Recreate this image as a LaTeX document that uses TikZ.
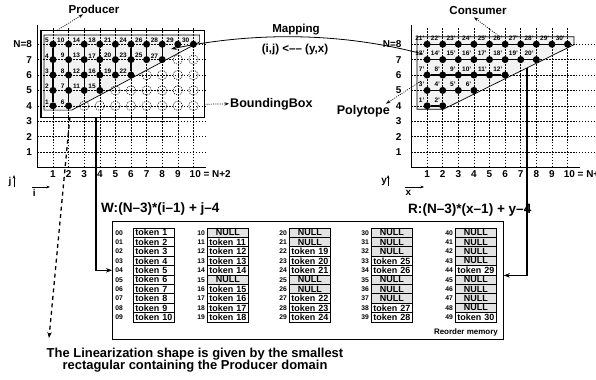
\documentclass[tikz,border=0pt]{standalone}
\usepackage{fontspec}
\setmainfont{Liberation Sans}
\usetikzlibrary{arrows.meta}

\tikzset{
  grid line/.style={dash pattern=on 1.6pt off 1.4pt, line width=0.5pt},
  axis line/.style={line width=0.9pt},
  pt/.style={circle, fill=black, inner sep=0pt, minimum size=7bp},
  hole/.style={circle, draw, dash pattern=on 1.2pt off 1pt, line width=0.5pt, inner sep=0pt, minimum size=9.5bp},
  lbl/.style={font=\fontsize{6.5}{7}\selectfont\bfseries, inner sep=0.4pt},
  axlbl/.style={font=\fontsize{10}{11}\selectfont\bfseries, inner sep=0.5pt},
  big/.style={font=\fontsize{11.6}{12}\selectfont\bfseries, inner sep=1bp},
  bigger/.style={font=\fontsize{12.6}{13}\selectfont\bfseries, inner sep=1bp},
  form/.style={font=\fontsize{13.6}{15}\selectfont\bfseries, inner sep=1bp},
  edge/.style={line width=1.4pt},
  var arrow/.style={line width=0.6pt, -{Stealth[length=3.5pt,width=2.8pt]}},
  note/.style={dash pattern=on 1pt off 1.2pt, line width=0.7pt, -{Stealth[length=4.5pt,width=3.2pt]}},
  flow/.style={line width=1.2pt, -{Stealth[length=6pt,width=4.5pt]}},
  cell/.style={draw, line width=0.8pt, minimum height=9.4bp, text width=37bp, inner xsep=2bp, inner ysep=0pt, font=\fontsize{9}{9}\selectfont\bfseries, anchor=west},
  tok/.style={cell, fill=white, align=left},
  null/.style={cell, fill=gray!22, align=center},
  idx/.style={font=\fontsize{6.8}{7}\selectfont\bfseries, inner sep=0pt, anchor=east},
}

% lattice: prefix, horizontal var, vertical var, line extent, label x
\newcommand{\lattice}[5]{%
  \foreach \j in {1,...,8} \draw[grid line] (0,\j) -- (#4,\j);
  \foreach \i in {1,...,10} \draw[grid line] (\i,0) -- (\i,9.1);
  \draw[axis line] (0,9.25) -- (0,0) -- (10.8,0);
  \foreach \j in {1,...,7} \node[axlbl, anchor=east] (#1-y\j) at (#5,\j) {\j};
  \node[axlbl, anchor=east] (#1-y8) at (#5,8) {N=8};
  \foreach \i in {1,...,9} \node[axlbl] (#1-x\i) at (\i,-0.43) {\i};
  \node[axlbl, anchor=west] (#1-x10) at (9.72,-0.43) {10 = N+2};
  \node[axlbl] (#1-v) at (-1.75,-0.95) {#3};
  \node[axlbl] (#1-h) at (-0.2,-1.66) {#2};
  \coordinate (#1-vt) at (-1.5,-0.5);
  \coordinate (#1-ht) at (0.8,-1.27);
  \draw[var arrow] (#1-vt |- #1-v.south) -- (#1-vt);
  \draw[var arrow] (#1-h.north west |- #1-ht) -- (#1-ht);
}

\begin{document}
\begin{tikzpicture}[x=1bp, y=-1bp]
\useasboundingbox (0,0) rectangle (596,379);

% producer domain
\begin{scope}[shift={(37.4,167.4)}, x=15.6bp, y=15.4bp]
  \fill[gray!10] (0.42,8.6) -- (10.4,8.6) -- (10.4,8.15) -- (2.2,3.72) -- (0.42,3.72) -- cycle;
  \lattice{pl}{i}{j}{10.9}{-0.3}
  \draw[line width=0.7pt] (0.42,8.6) -- (10.4,8.6) -- (10.4,8.15) -- (2.2,3.72) -- (0.42,3.72) -- cycle;
  \draw[line width=1.1pt] (0.23,3.25) rectangle (10.7,8.9);
  \coordinate (bb-top) at (1.26,8.9);
  \coordinate (bb-right) at (10.7,4.1);
  \coordinate (bb-lin) at (2.08,3.25);
  \coordinate (bb-w) at (3.76,3.25);
  \coordinate (map-to) at (8.56,7.69);
  \foreach \i/\jtop in {3/4,4/4,5/5,6/5,7/6,8/6,9/7,10/7}
    \foreach \j in {4,...,\jtop}
      \node[hole] (h-\i-\j) at (\i,\j) {};
  \foreach \i/\jmin/\first in {1/4/1,2/4/6,3/5/11,4/5/15,5/6/19,6/6/22,7/7/25,8/7/27,9/8/29,10/8/30}{
    \foreach \j [evaluate=\j as \n using int(\first+\j-\jmin)] in {\jmin,...,8}
      \node[pt, label={[lbl]165:\n}] (p-\i-\j) at (\i,\j) {};
    \draw[edge] (p-\i-\jmin) -- (p-\i-8);
  }
\end{scope}

% consumer domain
\begin{scope}[shift={(411.5,167.4)}, x=15.6bp, y=15.4bp]
  \fill[gray!10] (0.35,8.48) -- (10.42,8.48) -- (10.42,7.97) -- (2.03,3.77) -- (0.35,3.77) -- cycle;
  \lattice{cl}{x}{y}{12.5}{-0.6}
  \draw[line width=0.7pt] (0.35,8.48) -- (10.42,8.48) -- (10.42,7.97) -- (2.03,3.77) -- (0.35,3.77) -- cycle;
  \coordinate (poly-top) at (5.67,8.48);
  \coordinate (poly-left) at (0.6,5.6);
  \coordinate (poly-r) at (7.4,6.46);
  \coordinate (map-from) at (0.74,7.36);
  \foreach \j/\imax/\first in {4/2/1,5/4/3,6/6/7,7/8/13,8/10/21}{
    \foreach \i [evaluate=\i as \n using int(\first+\i-1)] in {1,...,\imax}
      \node[pt, label={[lbl]125:\n'}] (c-\i-\j) at (\i,\j) {};
    \draw[edge] (c-1-\j) -- (c-\imax-\j);
  }
\end{scope}

\node[big, anchor=base] (prod) at (94,13) {Producer};
\node[big, anchor=base] (cons) at (478,14) {Consumer};
\node[big, anchor=base] (map) at (296,32) {Mapping};
\node[big, anchor=base] (mapf) at (295,52) {(i,j) <--{}-- (y,x)};
\node[bigger, anchor=base west] (bblab) at (229,107) {BoundingBox};
\node[bigger, anchor=base east] (polylab) at (391,114) {Polytope};
\node[form, anchor=base west] (wf) at (100,212) {W:(N--3)*(i--1) + j--4};
\node[form, anchor=base west] (rf) at (407,213) {R:(N--3)*(x--1) + y--4};

\draw[note] (bb-top) -- ([xshift=-11bp]prod.south);
\draw[note] (poly-top) -- ([xshift=-4bp,yshift=-2bp]cons.south);
\draw[note] (bb-right) -- (bblab.west);
\draw[note] (poly-left) -- ([xshift=-5bp]polylab.north east);
\draw[line width=0.8pt, -{Stealth[length=6pt,width=4pt]}] (map-from) .. controls (340,32) and (254,32) .. (map-to);

% reorder memory
\node[draw, line width=0.8pt, minimum width=391bp, minimum height=118bp, inner sep=0pt, anchor=north west] (mem) at (112,221) {};
\node[font=\fontsize{8}{9}\selectfont\bfseries, anchor=base east, inner sep=0pt] (memlab) at (498,334) {Reorder memory};
\foreach \cl/\x/\lx/\cells in {0/133/123/{1,2,3,4,5,6,7,8,9,10},
    1/207/205/{0,11,12,13,14,0,15,16,17,18},
    2/289/287/{0,0,19,20,21,0,0,22,23,24},
    3/371/369/{0,0,0,25,26,0,0,0,27,28},
    4/455/453/{0,0,0,0,29,0,0,0,0,30}}{
  \foreach \t [count=\rw from 0] in \cells {
    \ifnum\t=0\relax
      \node[null] (m-\cl\rw) at (\x,232.7+\rw*9.4) {NULL};
    \else
      \node[tok] (m-\cl\rw) at (\x,232.7+\rw*9.4) {token \t};
    \fi
    \node[idx] (i-\cl\rw) at (\lx,232.7+\rw*9.4) {\cl\rw};
  }
}

\draw[flow] (bb-w) |- (mem.west |- i-04);
\draw[flow] (poly-r) |- (mem.east |- m-44.south);

\node[bigger, font=\fontsize{13}{12.5}\selectfont\bfseries, align=center] (linnote) at (195,360) {The Linearization shape is given by the smallest\\rectagular containing the Producer domain};
\coordinate (lin-tip) at (49,338);
\draw[line width=1.3pt, dash pattern=on 4pt off 3.5pt, -{Stealth[length=6pt,width=4.5pt]}] (bb-lin) -- (lin-tip);
\end{tikzpicture}
\end{document}
